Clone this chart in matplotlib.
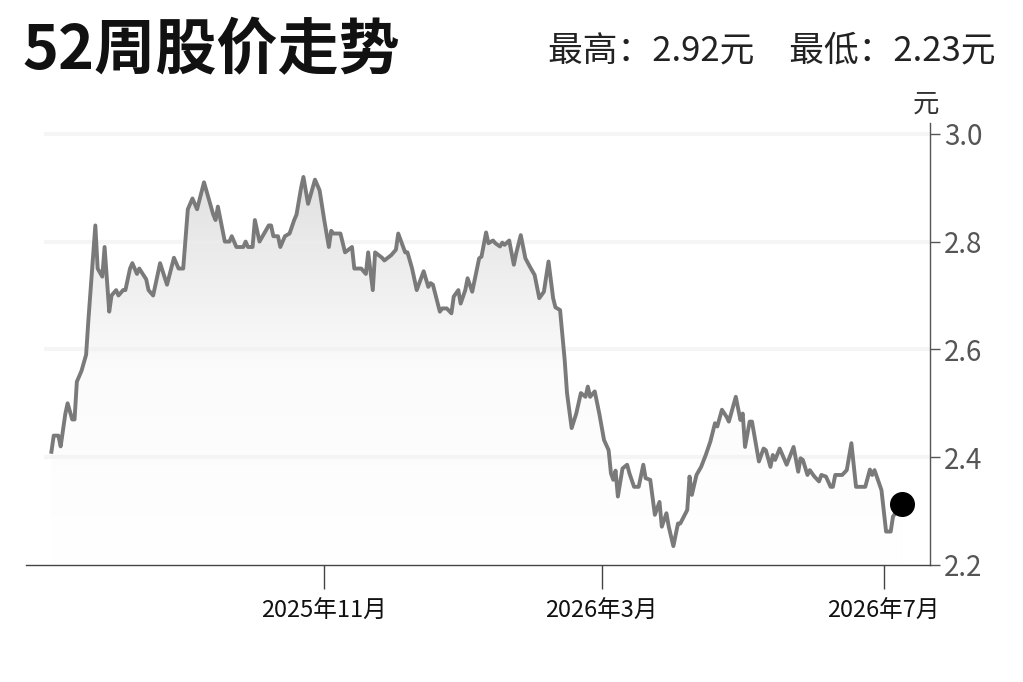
import matplotlib
matplotlib.use('Agg')
import matplotlib.pyplot as plt
import matplotlib.dates as mdates
from matplotlib.colors import LinearSegmentedColormap
import numpy as np
import pandas as pd

plt.rcParams['font.family'] = ['Noto Sans CJK SC', 'DejaVu Sans']

# 52周股价 (日期, 收盘价)
dates = [
    '2025-07-06', '2025-07-07', '2025-07-09', '2025-07-10', '2025-07-12', '2025-07-13', '2025-07-15', '2025-07-16',
    '2025-07-17', '2025-07-19', '2025-07-21', '2025-07-22', '2025-07-25', '2025-07-26', '2025-07-28', '2025-07-29',
    '2025-07-31', '2025-08-01', '2025-08-03', '2025-08-04', '2025-08-06', '2025-08-07', '2025-08-09', '2025-08-10',
    '2025-08-12', '2025-08-13', '2025-08-16', '2025-08-17', '2025-08-19', '2025-08-22', '2025-08-25', '2025-08-28',
    '2025-08-30', '2025-09-01', '2025-09-03', '2025-09-05', '2025-09-07', '2025-09-10', '2025-09-14', '2025-09-15',
    '2025-09-16', '2025-09-19', '2025-09-21', '2025-09-22', '2025-09-24', '2025-09-27', '2025-09-28', '2025-09-29',
    '2025-10-01', '2025-10-02', '2025-10-04', '2025-10-08', '2025-10-09', '2025-10-10', '2025-10-12', '2025-10-13',
    '2025-10-15', '2025-10-17', '2025-10-19', '2025-10-20', '2025-10-22', '2025-10-23', '2025-10-25', '2025-10-28',
    '2025-10-30', '2025-11-01', '2025-11-03', '2025-11-04', '2025-11-05', '2025-11-08', '2025-11-10', '2025-11-13',
    '2025-11-14', '2025-11-17', '2025-11-19', '2025-11-20', '2025-11-22', '2025-11-23', '2025-11-26', '2025-11-27',
    '2025-11-30', '2025-12-02', '2025-12-03', '2025-12-06', '2025-12-07', '2025-12-09', '2025-12-11', '2025-12-14',
    '2025-12-16', '2025-12-17', '2025-12-18', '2025-12-21', '2025-12-22', '2025-12-24', '2025-12-26', '2025-12-27',
    '2025-12-29', '2025-12-30', '2026-01-01', '2026-01-02', '2026-01-04', '2026-01-07', '2026-01-08', '2026-01-10',
    '2026-01-11', '2026-01-13', '2026-01-14', '2026-01-16', '2026-01-17', '2026-01-18', '2026-01-20', '2026-01-22',
    '2026-01-23', '2026-01-25', '2026-01-27', '2026-01-29', '2026-01-31', '2026-02-02', '2026-02-04', '2026-02-06',
    '2026-02-08', '2026-02-09', '2026-02-11', '2026-02-13', '2026-02-14', '2026-02-16', '2026-02-18', '2026-02-20',
    '2026-02-22', '2026-02-23', '2026-02-24', '2026-02-26', '2026-02-28', '2026-03-02', '2026-03-04', '2026-03-05',
    '2026-03-06', '2026-03-07', '2026-03-08', '2026-03-10', '2026-03-12', '2026-03-13', '2026-03-15', '2026-03-17',
    '2026-03-19', '2026-03-20', '2026-03-22', '2026-03-24', '2026-03-26', '2026-03-27', '2026-03-29', '2026-03-30',
    '2026-04-01', '2026-04-03', '2026-04-04', '2026-04-07', '2026-04-08', '2026-04-09', '2026-04-11', '2026-04-13',
    '2026-04-15', '2026-04-17', '2026-04-19', '2026-04-20', '2026-04-22', '2026-04-24', '2026-04-25', '2026-04-28',
    '2026-04-30', '2026-05-01', '2026-05-02', '2026-05-04', '2026-05-05', '2026-05-08', '2026-05-10', '2026-05-11',
    '2026-05-13', '2026-05-14', '2026-05-15', '2026-05-17', '2026-05-20', '2026-05-23', '2026-05-25', '2026-05-26',
    '2026-05-27', '2026-05-29', '2026-05-30', '2026-06-01', '2026-06-03', '2026-06-04', '2026-06-06', '2026-06-08',
    '2026-06-09', '2026-06-10', '2026-06-13', '2026-06-15', '2026-06-17', '2026-06-19', '2026-06-23', '2026-06-25',
    '2026-06-26', '2026-06-27', '2026-06-30', '2026-07-02', '2026-07-04', '2026-07-05', '2026-07-09',
]
prices = [
    2.41, 2.44, 2.44, 2.42, 2.48, 2.50, 2.47, 2.47,
    2.54, 2.56, 2.59, 2.655, 2.83, 2.75, 2.735, 2.79,
    2.67, 2.70, 2.71, 2.70, 2.71, 2.71, 2.75, 2.76,
    2.74, 2.75, 2.73, 2.71, 2.70, 2.76, 2.72, 2.77,
    2.75, 2.75, 2.86, 2.88, 2.86, 2.91, 2.85, 2.84,
    2.865, 2.80, 2.80, 2.81, 2.79, 2.79, 2.80, 2.79,
    2.79, 2.84, 2.80, 2.83, 2.83, 2.81, 2.81, 2.79,
    2.81, 2.815, 2.84, 2.85, 2.90, 2.92, 2.87, 2.915,
    2.895, 2.84, 2.79, 2.82, 2.815, 2.815, 2.78, 2.79,
    2.75, 2.75, 2.74, 2.78, 2.71, 2.78, 2.77, 2.765,
    2.775, 2.785, 2.815, 2.78, 2.78, 2.75, 2.71, 2.745,
    2.716, 2.723, 2.72, 2.67, 2.676, 2.676, 2.667, 2.698,
    2.71, 2.685, 2.71, 2.732, 2.707, 2.769, 2.772, 2.817,
    2.797, 2.802, 2.797, 2.791, 2.798, 2.794, 2.802, 2.757,
    2.778, 2.812, 2.769, 2.753, 2.738, 2.695, 2.707, 2.763,
    2.695, 2.678, 2.673, 2.58, 2.519, 2.454, 2.481, 2.519,
    2.512, 2.531, 2.512, 2.522, 2.48, 2.432, 2.413, 2.37,
    2.358, 2.375, 2.327, 2.379, 2.386, 2.37, 2.345, 2.345,
    2.386, 2.361, 2.358, 2.293, 2.317, 2.271, 2.296, 2.271,
    2.235, 2.277, 2.277, 2.302, 2.364, 2.33, 2.367, 2.382,
    2.404, 2.429, 2.463, 2.457, 2.488, 2.475, 2.466, 2.512,
    2.469, 2.481, 2.419, 2.466, 2.466, 2.392, 2.416, 2.413,
    2.382, 2.404, 2.395, 2.416, 2.386, 2.419, 2.373, 2.398,
    2.395, 2.367, 2.376, 2.364, 2.355, 2.367, 2.364, 2.345,
    2.345, 2.367, 2.367, 2.376, 2.426, 2.345, 2.345, 2.377,
    2.367, 2.376, 2.339, 2.262, 2.262, 2.29, 2.313,
]

tick_dates = ['2025-11-01', '2026-03-01', '2026-07-01']
tick_labels = ['2025年11月', '2026年3月', '2026年7月']
y_ticks = [2.2, 2.4, 2.6, 2.8, 3.0]
high_price = 2.92
low_price = 2.23

x = mdates.date2num(pd.to_datetime(dates))
y = np.array(prices)

fig = plt.figure(figsize=(10.23, 6.82), dpi=100)
ax = fig.add_axes([0.0254, 0.1716, 0.8837, 0.648])

x0 = mdates.date2num(pd.Timestamp('2025-06-25'))
x1 = mdates.date2num(pd.Timestamp('2026-07-21'))
ymin, ymax = 2.2, 3.02

# 渐变填充
cmap = LinearSegmentedColormap.from_list('fade', ['#ffffff', '#fbfbfb', '#e0e0e0'])
grad = np.linspace(0, 1, 256).reshape(-1, 1)
img = ax.imshow(grad, extent=[x0, x1, ymin, 2.93], origin='lower', aspect='auto',
                cmap=cmap, zorder=1)
poly = ax.fill_between(x, y, ymin, color='none', lw=0)
img.set_clip_path(poly.get_paths()[0], transform=ax.transData)

grid_x0 = mdates.date2num(pd.Timestamp('2025-07-03'))
for v in y_ticks[1:]:
    ax.plot([grid_x0, x1], [v, v], color='#eeeeee', lw=3, alpha=0.55, zorder=2,
            solid_capstyle='butt')

ax.plot(x, y, color='#7a7a7a', lw=2.8, zorder=3, solid_joinstyle='round')
ax.plot(x[-1], y[-1], 'o', color='black', markersize=17, zorder=4, clip_on=False)

ax.set_xlim(x0, x1)
ax.set_ylim(ymin, ymax)

for s in ['top', 'left']:
    ax.spines[s].set_visible(False)
ax.spines['bottom'].set_color('#444444')
ax.spines['right'].set_color('#555555')
ax.spines['bottom'].set_linewidth(1.0)
ax.spines['right'].set_linewidth(1.0)

ax.yaxis.tick_right()
ax.set_yticks(y_ticks)
ax.set_yticklabels([f'{v:.1f}' for v in y_ticks])
ax.tick_params(axis='y', direction='out', length=7, width=1, color='#555555',
               labelcolor='#555555', labelsize=20, pad=3)

ax.set_xticks(mdates.date2num(pd.to_datetime(tick_dates)))
ax.set_xticklabels(tick_labels)
ax.tick_params(axis='x', direction='out', length=17, width=1, color='#444444',
               labelcolor='#111111', labelsize=17, pad=8)

fig.text(0.905, 0.848, '元', fontsize=19, color='#333333', ha='center', va='center')

fig.text(0.022, 0.925, '52周股价走势', fontsize=44, fontweight='bold',
         color='#111111', ha='left', va='center')
fig.text(0.973, 0.925, f'最高：{high_price:.2f}元　最低：{low_price:.2f}元',
         fontsize=25, color='#222222', ha='right', va='center')

plt.savefig('out.png', dpi=100)
plt.close()
